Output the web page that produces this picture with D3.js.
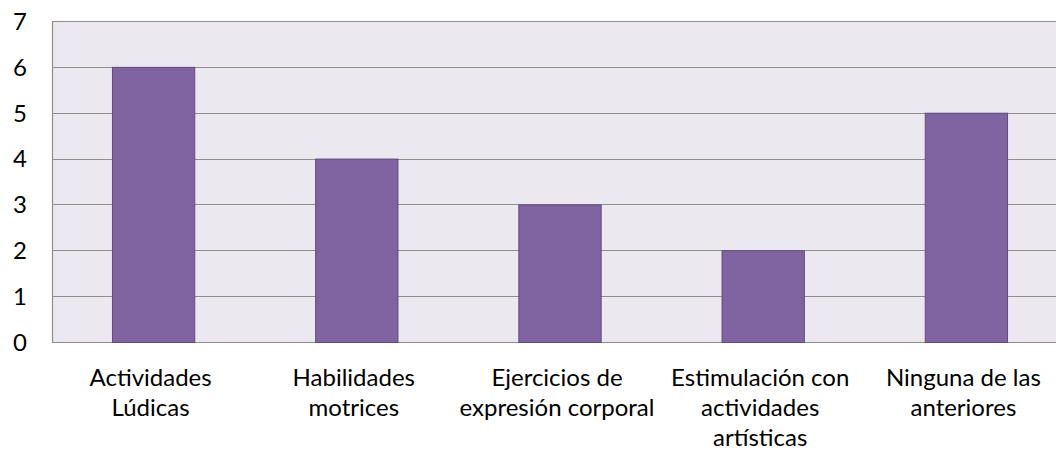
<!DOCTYPE html>
<html><head><meta charset="utf-8">
<script src="https://cdn.jsdelivr.net/npm/d3@7"></script>
<style>html,body{margin:0;padding:0;background:#fff;}svg{display:block;}</style>
</head><body>
<svg id="c" width="1056" height="452"></svg>
<script>
const categories = [
  ["Actividades","Lúdicas"],
  ["Habilidades","motrices"],
  ["Ejercicios de","expresión corporal"],
  ["Estimulación con","actividades","artísticas"],
  ["Ninguna de las","anteriores"]
];
const values = [6, 4, 3, 2, 5];
const yTicks = [0, 1, 2, 3, 4, 5, 6, 7];

(function() {
const mLeft = 52, mRight = 1068, mTop = 21, mBottom = 342;
const font = "Lato, 'Open Sans', sans-serif";
const fs = 24;

const svg = d3.select("#c");
const keys = categories.map((c, i) => i);
const x = d3.scaleBand().domain(keys).range([mLeft, mRight]).padding(0);
const y = d3.scaleLinear().domain([0, 7]).range([mBottom, mTop]);

svg.append("rect").attr("x", mLeft).attr("y", mTop)
  .attr("width", mRight - mLeft).attr("height", mBottom - mTop)
  .attr("fill", "#EBE9EF");

svg.append("g").selectAll("line").data(yTicks).join("line")
  .attr("x1", mLeft).attr("x2", mRight)
  .attr("y1", d => Math.round(y(d)) + 0.5).attr("y2", d => Math.round(y(d)) + 0.5)
  .attr("stroke", "#8E8E8E").attr("stroke-width", 1.2);

svg.append("line").attr("x1", mLeft + 0.5).attr("x2", mLeft + 0.5)
  .attr("y1", mTop).attr("y2", mBottom + 1)
  .attr("stroke", "#8E8E8E").attr("stroke-width", 1.2);

const bw = x.step() * 0.405;
svg.append("g").selectAll("rect").data(values).join("rect")
  .attr("x", (d, i) => x(i) + x.bandwidth() / 2 - bw / 2)
  .attr("width", bw)
  .attr("y", d => y(d) + 0.5)
  .attr("height", d => y(0) - y(d))
  .attr("fill", "#8064A2")
  .attr("stroke", "#5F4B7E").attr("stroke-width", 1);

const yAxis = d3.axisLeft(y).tickValues(yTicks).tickSize(0).tickPadding(0).tickFormat(d3.format("d"));
const ya = svg.append("g").attr("transform", "translate(27,0)").call(yAxis);
ya.select(".domain").remove();
ya.selectAll("text").attr("font-family", font).attr("font-size", fs).attr("fill", "#000").attr("dy", "0.35em");

const xl = svg.append("g").selectAll("text").data(categories).join("text")
  .attr("x", (d, i) => x(i) + x.bandwidth() / 2 - 3)
  .attr("y", 386)
  .attr("text-anchor", "middle")
  .attr("font-family", font).attr("font-size", fs).attr("fill", "#000");
xl.selectAll("tspan").data(d => d).join("tspan")
  .attr("x", function() { return this.parentNode.getAttribute("x"); })
  .attr("dy", (d, i) => i === 0 ? 0 : 30)
  .text(d => d);
})();
</script>
</body></html>
